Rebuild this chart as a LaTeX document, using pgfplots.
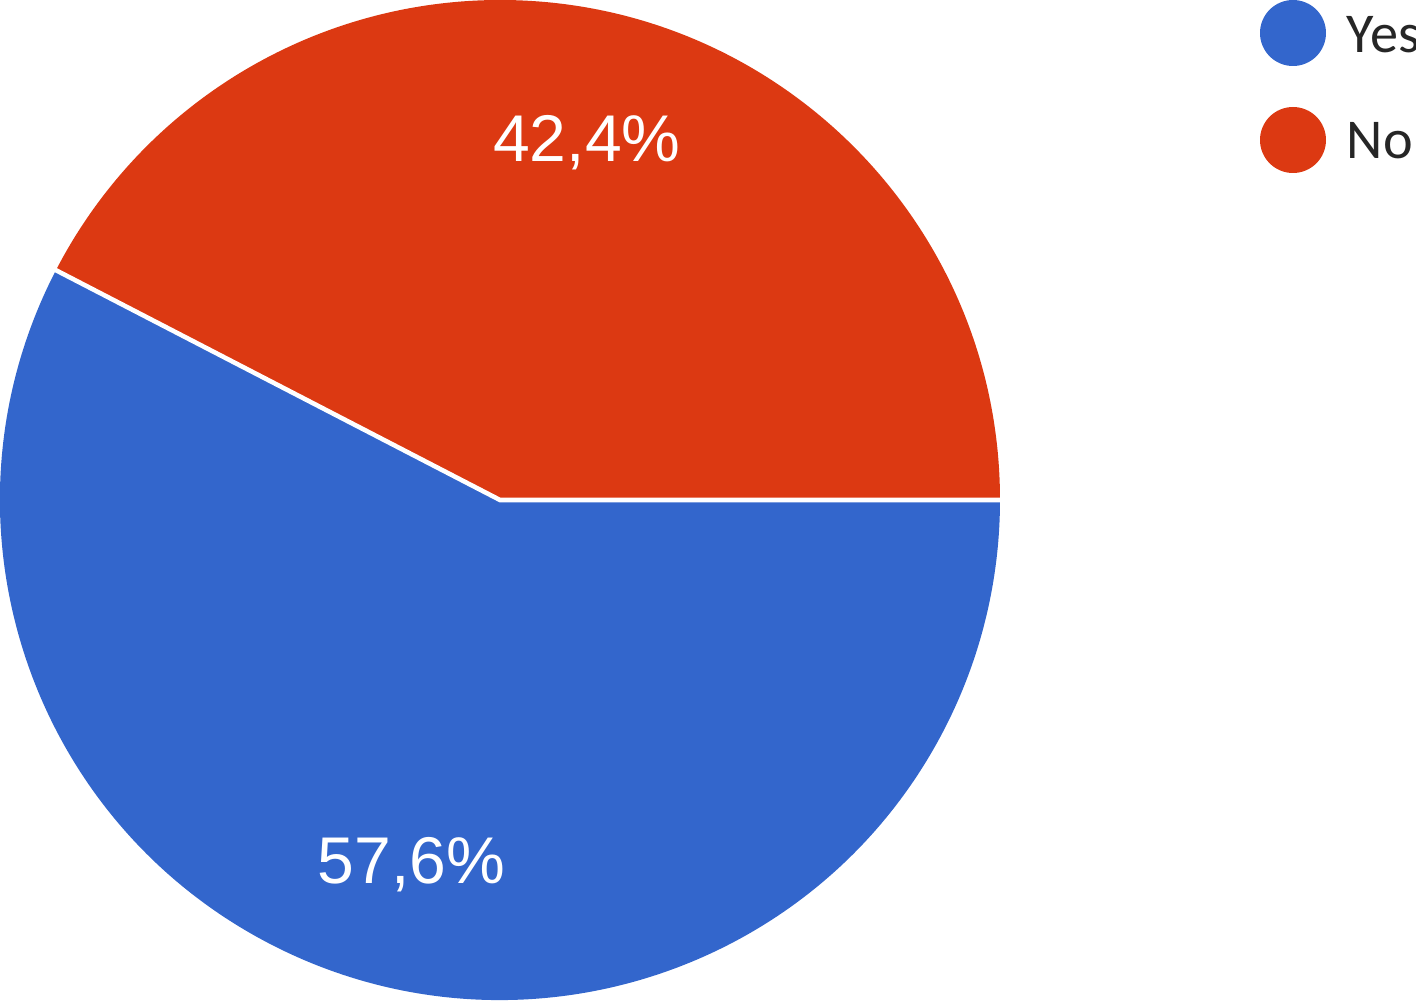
\documentclass[border=0pt]{standalone}
\usepackage{pgfplots}
\pgfplotsset{compat=1.18}
\usepackage{fontspec}
\setmainfont{Liberation Sans}
\newfontfamily\legfont{Carlito}

\definecolor{yescol}{HTML}{3366CC}
\definecolor{nocol}{HTML}{DC3912}

\begin{document}
\begin{tikzpicture}
% shares in percent
\pgfmathsetmacro{\yes}{57.6}
\pgfmathsetmacro{\no}{42.4}
\pgfmathsetmacro{\ang}{\no*3.6}
\pgfmathsetmacro{\midno}{\ang/2}
\pgfmathsetmacro{\midyes}{\ang+\yes*1.8}
\begin{axis}[x=5cm,y=5cm,xmin=-1,xmax=1.832,ymin=-1.008,ymax=1.0,hide axis,clip=false]
\fill[nocol] (axis cs:0,0) -- (axis cs:1,0) arc[start angle=0,end angle=\ang,radius=5cm] -- cycle;
\fill[yescol] (axis cs:0,0) -- (axis cs:{cos(\ang)},{sin(\ang)}) arc[start angle=\ang,end angle=360,radius=5cm] -- cycle;
\draw[white,line width=1.3pt] (axis cs:1.01,0) -- (axis cs:0,0) -- (axis cs:{1.01*cos(\ang)},{1.01*sin(\ang)});
\node[text=white,font=\fontsize{18.8}{22}\selectfont] at (axis cs:{0.735*cos(\midno)},{0.735*sin(\midno)}) {42,4\%};
\node[text=white,font=\fontsize{18.8}{22}\selectfont] at (axis cs:{0.75*cos(\midyes)},{0.75*sin(\midyes)}) {57,6\%};
% legend
\fill[yescol] (axis cs:1.586,0.934) circle[radius=0.33cm];
\fill[nocol] (axis cs:1.586,0.72) circle[radius=0.33cm];
\node[anchor=west,inner sep=0pt,text=black!85,font=\legfont\fontsize{16}{19}\selectfont] at (axis cs:1.692,0.93) {Yes};
\node[anchor=west,inner sep=0pt,text=black!85,font=\legfont\fontsize{16}{19}\selectfont] at (axis cs:1.692,0.718) {No};
\end{axis}
\pgfresetboundingbox
\useasboundingbox (current axis.south west) rectangle (current axis.north east);
\end{tikzpicture}
\end{document}
